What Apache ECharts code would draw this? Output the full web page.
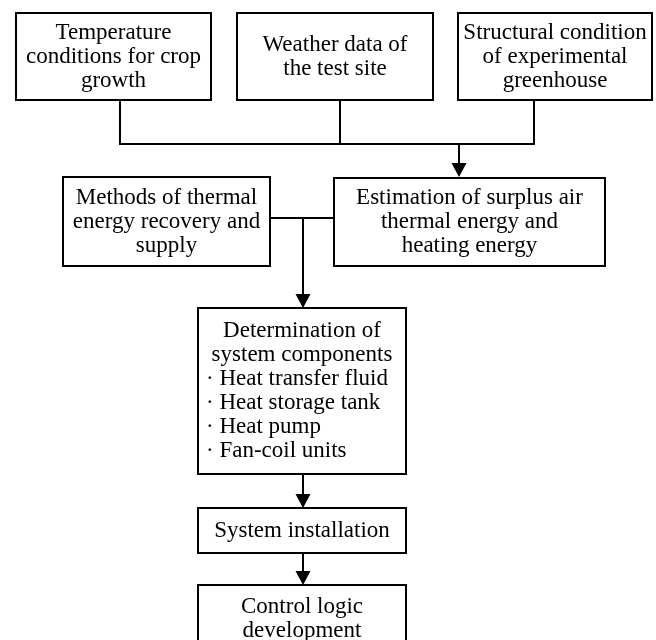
<!DOCTYPE html>
<html lang="en">
<head>
    <meta charset="UTF-8">
    <title>Flowchart</title>
    <script src="https://cdn.jsdelivr.net/npm/echarts@6/dist/echarts.min.js"></script>
    <style>
        html, body, #chart {
            width: 100%;
            height: 100%;
            margin: 0;
            padding: 0;
            background: #fff;
        }
        body { overflow: hidden; }
    </style>
</head>
<body>
    <div id="chart"></div>
    <script>
        // box texts, one entry per line
        const boxText = [
            ['Temperature', 'conditions for crop', 'growth'],
            ['Weather data of', 'the test site'],
            ['Structural condition', 'of experimental', 'greenhouse'],
            ['Methods of thermal', 'energy recovery and', 'supply'],
            ['Estimation of surplus air', 'thermal energy and', 'heating energy'],
            ['Determination of', 'system components', '· Heat transfer fluid', '· Heat storage tank', '· Heat pump', '· Fan-coil units'],
            ['System installation'],
            ['Control logic', 'development']
        ];
        // box extents in diagram units (x right, y down)
        const boxLeft = [16, 237, 458, 63, 334, 198, 198, 198];
        const boxRight = [211, 433, 652, 270, 605, 406, 406, 406];
        const boxTop = [13, 13, 13, 177, 178, 308, 508, 585];
        const boxBottom = [100, 100, 100, 266, 266, 474, 553, 652];

        // connectors: x1, y1, x2, y2, arrow at end (1) or not (0)
        const links = [
            [120, 100, 120, 144, 0],
            [340, 100, 340, 144, 0],
            [534, 100, 534, 144, 0],
            [120, 144, 534, 144, 0],
            [459, 144, 459, 177, 1],
            [270, 218, 334, 218, 0],
            [303, 218, 303, 308, 1],
            [303, 474, 303, 508, 1],
            [303, 553, 303, 585, 1]
        ];

        const fontFamily = "'Liberation Serif', 'Times New Roman', serif";
        const fontSize = 23;
        const lineHeight = 24;

        const boxData = boxText.map((t, i) => [boxLeft[i], boxTop[i], boxRight[i], boxBottom[i], i]);

        var chart = echarts.init(document.getElementById('chart'));

        function renderBox(params, api) {
            const p0 = api.coord([api.value(0), api.value(1)]);
            const p1 = api.coord([api.value(2), api.value(3)]);
            const lines = boxText[api.value(4)];
            const x = Math.min(p0[0], p1[0]), y = Math.min(p0[1], p1[1]);
            const w = Math.abs(p1[0] - p0[0]), h = Math.abs(p1[1] - p0[1]);
            const cx = x + w / 2, cy = y + h / 2;
            const children = [{
                type: 'rect',
                shape: { x: x, y: y, width: w, height: h },
                style: { fill: '#fff', stroke: '#000', lineWidth: 2 }
            }];
            const startY = cy - (lines.length - 1) * lineHeight / 2;
            lines.forEach((ln, k) => {
                const bullet = ln.charAt(0) === '·';
                children.push({
                    type: 'text',
                    style: {
                        text: ln,
                        x: bullet ? x + 8 : cx,
                        y: startY + k * lineHeight,
                        align: bullet ? 'left' : 'center',
                        verticalAlign: 'middle',
                        fill: '#000',
                        font: fontSize + 'px ' + fontFamily
                    }
                });
            });
            return { type: 'group', children: children };
        }

        function renderLink(params, api) {
            const a = api.coord([api.value(0), api.value(1)]);
            const b = api.coord([api.value(2), api.value(3)]);
            const arrow = api.value(4) === 1;
            const children = [];
            let end = b;
            if (arrow) {
                // arrowhead pointing down, tip on the box edge
                end = [b[0], b[1] - 12];
                children.push({
                    type: 'polygon',
                    shape: { points: [[b[0] - 7.5, b[1] - 14], [b[0] + 7.5, b[1] - 14], [b[0], b[1]]] },
                    style: { fill: '#000' }
                });
            }
            children.push({
                type: 'line',
                shape: { x1: a[0], y1: a[1], x2: end[0], y2: end[1] },
                style: { stroke: '#000', lineWidth: 2, lineCap: 'square' }
            });
            return { type: 'group', children: children };
        }

        var option = {
            backgroundColor: '#fff',
            animation: false,
            grid: { left: 0, right: 0, top: 0, bottom: 0 },
            xAxis: { type: 'value', min: 0, max: 656, show: false },
            yAxis: { type: 'value', min: 0, max: 640, inverse: true, show: false },
            series: [
                {
                    type: 'custom',
                    renderItem: renderLink,
                    data: links,
                    clip: false,
                    z: 1
                },
                {
                    type: 'custom',
                    renderItem: renderBox,
                    data: boxData,
                    clip: false,
                    z: 2
                }
            ]
        };

        chart.setOption(option);
        window.addEventListener('resize', function () {
            chart.resize();
        });
    </script>
</body>
</html>
